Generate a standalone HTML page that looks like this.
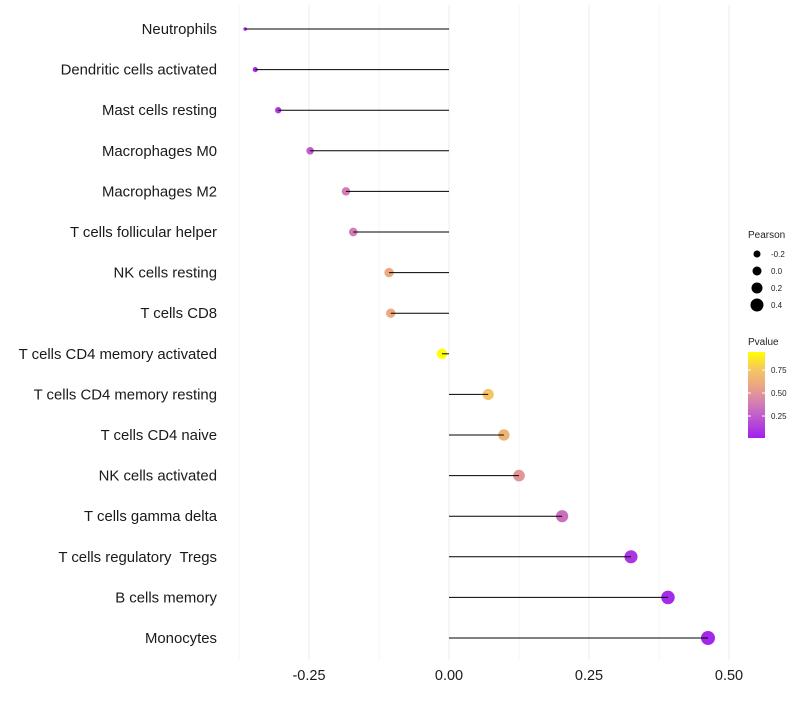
<!DOCTYPE html>
<html><head><meta charset="utf-8"><style>
body{margin:0;background:#fff;font-family:"Liberation Sans",sans-serif;}
svg text{font-family:"Liberation Sans",sans-serif;white-space:pre;}
</style></head><body>
<svg id="chart" width="800" height="700" viewBox="0 0 800 700"></svg>
<script>
const categories=["Neutrophils","Dendritic cells activated","Mast cells resting","Macrophages M0","Macrophages M2","T cells follicular helper","NK cells resting","T cells CD8","T cells CD4 memory activated","T cells CD4 memory resting","T cells CD4 naive","NK cells activated","T cells gamma delta","T cells regulatory  Tregs","B cells memory","Monocytes"];
const pearson=[-0.364,-0.346,-0.305,-0.248,-0.184,-0.171,-0.107,-0.104,-0.0125,0.070,0.098,0.125,0.202,0.325,0.391,0.4625];
const pvalue=[0.05,0.06,0.12,0.25,0.38,0.38,0.6,0.6,0.95,0.75,0.65,0.5,0.33,0.1,0.05,0.04];
const xTicks=[-0.25,0,0.25,0.5];
const xTickLabels=["-0.25","0.00","0.25","0.50"];
const minorTicks=[-0.375,-0.125,0.125,0.375];
const sizeLegend=[-0.2,0,0.2,0.4];
const colorTicks=[0.25,0.5,0.75];

const NS="http://www.w3.org/2000/svg";
const svg=document.getElementById('chart');
const x=v=>449+v*560;
const y=i=>29+i*40.6;
const r=v=>1.8+5.2*Math.sqrt(Math.max(0,(v+0.364)/0.826));
const pv0=0.011,pv1=0.946;
const stops=[[0.011,[160,32,240]],[0.25,[192,92,204]],[0.4,[213,128,176]],[0.6,[237,170,128]],[0.75,[245,196,101]],[0.946,[255,255,0]]];
function col(p){p=Math.max(pv0,Math.min(pv1,p));
 for(let k=1;k<stops.length;k++){if(p<=stops[k][0]){const a=stops[k-1],b=stops[k];const f=(p-a[0])/(b[0]-a[0]);
 const c=a[1].map((v,j)=>Math.round(v+(b[1][j]-v)*f));return `rgb(${c})`;}}return 'rgb(255,255,0)';}
function mk(tag,attrs,parent){const e=document.createElementNS(NS,tag);for(const k in attrs)e.setAttribute(k,attrs[k]);(parent||svg).appendChild(e);return e;}

minorTicks.forEach(v=>{const l=mk('line',{x1:x(v),x2:x(v),y1:5,y2:660,stroke:'#f4f4f4','stroke-width':1});

});
xTicks.forEach((v,i)=>{const l=mk('line',{x1:x(v),x2:x(v),y1:5,y2:660,stroke:'#ebebeb','stroke-width':1});


const t=mk('text',{x:x(v),y:680,'text-anchor':'middle','font-size':14.5,fill:'#1a1a1a'});t.textContent=xTickLabels[i];

});

categories.forEach((c,i)=>{
 const t=mk('text',{x:217,y:y(i)+5,'text-anchor':'end','font-size':14.9,fill:'#1a1a1a'});t.textContent=c;
 
 
 const p=mk('circle',{cx:x(pearson[i]),cy:y(i),r:r(pearson[i]),fill:col(pvalue[i])});
 
 
 const s=mk('line',{x1:x(0),x2:x(pearson[i]),y1:y(i),y2:y(i),stroke:'#000','stroke-width':1});
 
 
});

let t=mk('text',{x:748,y:238,'font-size':10,fill:'#222'});t.textContent='Pearson';


sizeLegend.forEach((v,i)=>{const c=mk('circle',{cx:757,cy:254+i*17,r:3.5+i,fill:'#000'});


const tt=mk('text',{x:771,y:257+i*17,'font-size':8,fill:'#222'});tt.textContent=v.toFixed(1);

});
t=mk('text',{x:748,y:345,'font-size':10,fill:'#222'});t.textContent='Pvalue';


const defs=mk('defs',{});const g=mk('linearGradient',{id:'pg',x1:0,y1:1,x2:0,y2:0},defs);
stops.forEach(s=>mk('stop',{offset:(s[0]-pv0)/(pv1-pv0),'stop-color':`rgb(${s[1]})`},g));
const bar=mk('rect',{x:748,y:352,width:17,height:86,fill:'url(#pg)'});


colorTicks.forEach(v=>{const yy=438-(v-pv0)/(pv1-pv0)*86;
mk('line',{x1:748,x2:751,y1:yy,y2:yy,stroke:'#fff'});mk('line',{x1:762,x2:765,y1:yy,y2:yy,stroke:'#fff'});
const tt=mk('text',{x:771,y:yy+3,'font-size':8,fill:'#222'});tt.textContent=v.toFixed(2);

});
</script>
</body></html>
